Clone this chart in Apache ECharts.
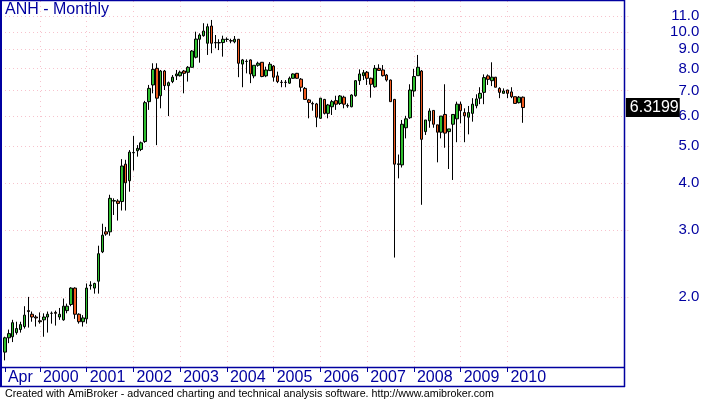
<!DOCTYPE html>
<html><head><meta charset="utf-8">
<script src="https://cdn.jsdelivr.net/npm/echarts@6/dist/echarts.min.js"></script>
<style>html,body{margin:0;padding:0;background:#fff}#c{width:701px;height:400px}</style>
</head><body><div id="c"></div>
<script>
// ---- data (monthly OHLC, Apr 1999 .. May 2010) ----
const startYear = 1999, startMonth = 4;
const monthNames = ['Jan','Feb','Mar','Apr','May','Jun','Jul','Aug','Sep','Oct','Nov','Dec'];
const opens = [
1.43,1.56,1.57,1.61,1.64,1.67,1.84,1.80,1.77,1.73,
1.74,1.77,1.81,1.82,1.77,1.74,1.84,1.91,2.11,1.80,
1.72,1.75,2.14,2.11,2.20,2.63,2.97,2.97,3.58,3.58,
3.57,4.48,4.05,4.80,4.86,4.90,5.14,6.55,7.25,8.02,
6.79,7.89,7.22,7.40,7.66,7.67,7.89,7.83,8.07,8.58,
9.57,9.78,9.34,10.37,9.38,9.36,9.38,9.56,9.49,9.42,
9.57,8.23,8.36,8.44,7.66,8.17,8.32,7.66,7.91,8.13,
7.66,7.37,7.36,7.33,7.55,7.78,7.51,7.10,6.62,6.48,
6.46,5.92,6.64,6.10,6.35,6.59,6.48,6.73,6.40,6.35,
6.79,7.44,7.67,7.83,7.55,7.17,8.02,7.94,7.70,7.47,
6.64,4.47,4.46,5.59,5.94,6.99,7.67,7.89,5.46,5.83,
6.21,5.69,5.44,6.06,5.46,5.71,5.90,6.45,6.13,5.96,
6.10,6.39,6.69,6.93,7.66,7.44,7.60,7.10,6.89,7.03,
6.95,6.75,6.51,6.73];
const closes = [
1.56,1.60,1.71,1.65,1.69,1.79,1.83,1.77,1.76,1.72,
1.77,1.80,1.81,1.81,1.80,1.89,1.89,2.11,1.80,1.72,
1.76,2.11,2.15,2.17,2.60,2.91,2.93,3.64,3.59,3.53,
4.43,4.00,4.82,4.81,4.93,5.10,6.51,7.10,7.97,6.69,
7.89,7.22,7.35,7.60,7.75,7.83,7.78,8.07,8.91,9.58,
9.82,10.06,10.33,9.34,9.36,9.38,9.57,9.57,9.47,9.57,
8.27,8.44,8.37,7.75,8.17,8.27,7.63,7.94,8.22,7.60,
7.40,7.36,7.37,7.55,7.75,7.55,7.15,6.64,6.52,6.46,
5.96,6.69,6.10,6.42,6.55,6.45,6.78,6.45,6.38,6.82,
7.44,7.75,7.81,7.55,7.28,8.02,7.92,7.67,7.47,6.55,
4.48,4.49,5.71,5.90,7.03,7.63,8.07,5.21,5.86,6.19,
5.71,5.44,6.00,5.41,5.55,6.06,6.45,6.20,6.01,6.13,
6.45,6.66,6.89,7.58,7.50,7.60,7.15,6.93,6.99,6.89,
6.75,6.48,6.73,6.3199];
const highs = [
1.57,1.64,1.74,1.72,1.72,1.89,2.00,1.83,1.79,1.82,
1.81,1.83,1.83,1.84,1.87,1.98,1.92,2.12,2.12,1.81,
1.79,2.17,2.20,2.18,2.73,3.12,3.06,3.72,3.64,3.62,
4.62,4.60,4.88,5.32,5.03,5.14,6.58,7.25,8.27,8.27,
7.94,7.94,7.40,7.70,7.94,7.91,7.94,8.13,8.96,10.02,
9.92,10.55,10.52,10.76,9.82,9.57,9.78,9.68,9.60,9.76,
9.58,8.49,8.47,8.47,8.17,8.35,8.33,8.10,8.33,8.18,
7.86,7.47,7.47,7.63,7.78,7.80,7.56,7.16,6.66,6.55,
6.50,6.70,6.66,6.46,6.62,6.79,6.82,6.79,6.48,6.85,
7.47,7.97,7.94,7.89,7.58,8.18,8.22,8.18,7.75,7.49,
6.66,4.75,5.86,6.01,7.28,7.99,8.70,7.94,5.86,6.29,
6.21,5.69,6.00,7.28,5.55,6.06,6.55,6.55,6.29,6.38,
6.69,6.85,7.15,7.73,7.73,8.32,7.61,7.15,7.10,7.04,
7.15,6.75,6.78,6.76];
const lows = [
1.36,1.51,1.52,1.59,1.61,1.65,1.66,1.72,1.67,1.70,
1.57,1.61,1.70,1.68,1.74,1.73,1.81,1.89,1.75,1.70,
1.67,1.70,2.09,2.04,2.04,2.61,2.90,2.90,3.29,3.18,
3.38,3.38,3.79,4.31,4.69,4.85,5.10,6.23,6.89,5.03,
6.29,7.03,6.00,7.33,7.47,7.63,6.89,7.40,8.07,8.52,
8.30,9.72,8.70,8.79,9.06,8.96,8.61,9.42,9.34,9.34,
7.60,7.15,7.78,7.33,7.55,8.10,7.60,7.60,7.89,7.40,
7.33,7.15,7.15,7.30,7.53,7.53,6.96,6.62,5.92,6.20,
5.61,5.90,6.06,5.92,6.04,6.23,6.42,6.29,6.31,6.33,
6.75,7.25,7.47,7.25,6.71,7.13,7.90,7.63,7.40,6.55,
2.54,4.11,4.39,5.24,5.90,6.75,7.67,3.50,5.35,5.59,
5.59,4.53,5.24,4.95,4.35,4.07,5.12,5.74,5.12,5.37,
5.80,6.29,6.45,6.45,7.25,7.20,7.15,6.69,6.89,6.69,
6.69,6.48,6.48,5.76];
const yTickValues = [2,3,4,5,6,7,8,9,10,11];
const yMin = 1.3063, yMax = 12.074;
const padBefore = 1, padAfter = 26;
const titleText = 'ANH - Monthly';
const footerText = 'Created with AmiBroker - advanced charting and technical analysis software. http://www.amibroker.com';

// ---- build ----
const blue = '#0000a0', pink = '#f7c3cd', upColor = '#2fbf2f', downColor = '#f05a1e';
const font = '"Liberation Sans", Arial, sans-serif';
const months = opens.map((_, i) => { const m = startMonth - 1 + i; return (startYear + Math.floor(m / 12)) + '-' + String(m % 12 + 1).padStart(2, '0'); });
const categories = [];
for (let i = 0; i < padBefore; i++) categories.push('pad-b' + i);
months.forEach(m => categories.push(m));
for (let i = 0; i < padAfter; i++) categories.push('pad-a' + i);
const candleData = opens.map((o, i) => [i + padBefore, o, closes[i], lows[i], highs[i]]);
const isMonth = idx => idx >= padBefore && idx < padBefore + months.length;
const isLabelIdx = idx => isMonth(idx) && (idx === padBefore || categories[idx].slice(5) === '01');
const isGridIdx = idx => isMonth(idx) && idx !== padBefore && categories[idx].slice(5) === '01';
const logTicks = yTickValues.map(v => Math.log10(v));
const lastClose = closes[closes.length - 1];

const chart = echarts.init(document.getElementById('c'), null, {renderer: 'canvas'});
chart.setOption({
  animation: false,
  backgroundColor: '#fff',
  title: [
    {text: titleText, left: 5, top: 2, padding: 0, textStyle: {color: blue, fontSize: 16, fontWeight: 'normal', fontFamily: font, lineHeight: 16}},
    {text: footerText, left: 5, top: 389, padding: 0, textStyle: {color: '#000', fontSize: 10.7, fontWeight: 'normal', fontFamily: font, lineHeight: 11}}
  ],
  grid: {left: 1, right: 76.7, top: 1, bottom: 33, containLabel: false, outerBoundsMode: 'none'},
  xAxis: {
    type: 'category', data: categories, boundaryGap: false,
    axisLine: {show: false},
    axisTick: {show: true, interval: (i) => isLabelIdx(i), length: 5, lineStyle: {color: blue, width: 1}},
    axisLabel: {
      interval: (i) => isLabelIdx(i), hideOverlap: false,
      formatter: (val, idx) => { if (!isMonth(idx)) return ''; if (idx === padBefore) return monthNames[startMonth - 1]; return val.slice(0, 4); },
      color: blue, fontSize: 16, fontFamily: font, align: 'left', verticalAlign: 'top', lineHeight: 16, padding: [0, 0, 0, 3], margin: 3
    },
    splitLine: {show: true, interval: (i) => isGridIdx(i), lineStyle: {color: pink, type: [1, 4], width: 1}}
  },
  yAxis: [
    {type: 'log', logBase: 10, min: yMin, max: yMax, show: false},
    {
      type: 'value', position: 'right', min: Math.log10(yMin), max: Math.log10(yMax),
      axisLine: {show: false},
      axisTick: {show: true, customValues: logTicks, length: 4, lineStyle: {color: pink, type: [1, 2]}},
      axisLabel: {customValues: logTicks, formatter: v => Math.pow(10, v).toFixed(1), color: blue, fontSize: 15, fontFamily: font, align: 'right', margin: 75, lineHeight: 14, hideOverlap: false},
      splitLine: {show: true, lineStyle: {color: pink, type: [1, 3], width: 1}}
    }
  ],
  series: [{
    type: 'candlestick', xAxisIndex: 0, yAxisIndex: 0, data: candleData,
    encode: {x: 0, y: [1, 2, 3, 4]},
    barWidth: 3, clip: false, silent: true,
    itemStyle: {color: upColor, color0: downColor, borderColor: '#000', borderColor0: '#000', borderColorDoji: '#000', borderWidth: 1},
    markLine: {
      silent: true, animation: false, symbol: ['none', 'none'],
      lineStyle: {color: 'rgba(0,0,0,0)', width: 0},
      label: {show: true, position: 'end', distance: 1.5, formatter: () => lastClose.toFixed(4), color: '#fff', backgroundColor: '#000', fontSize: 16, fontFamily: font, lineHeight: 16, padding: [2, 1, 1, 4]},
      data: [{yAxis: lastClose}]
    }
  }],
  graphic: [
    {type: 'line', shape: {x1: 1, y1: 0, x2: 1, y2: 387}, style: {stroke: blue, lineWidth: 2}, z: 100},
    {type: 'line', shape: {x1: 0, y1: 0.5, x2: 625, y2: 0.5}, style: {stroke: blue, lineWidth: 1.5}, z: 100},
    {type: 'line', shape: {x1: 624.5, y1: 0, x2: 624.5, y2: 387}, style: {stroke: blue, lineWidth: 1.5}, z: 100},
    {type: 'line', shape: {x1: 0, y1: 367.5, x2: 625, y2: 367.5}, style: {stroke: blue, lineWidth: 1.5}, z: 100},
    {type: 'line', shape: {x1: 0, y1: 386.5, x2: 625, y2: 386.5}, style: {stroke: blue, lineWidth: 1.5}, z: 100}
  ]
});
</script></body></html>
